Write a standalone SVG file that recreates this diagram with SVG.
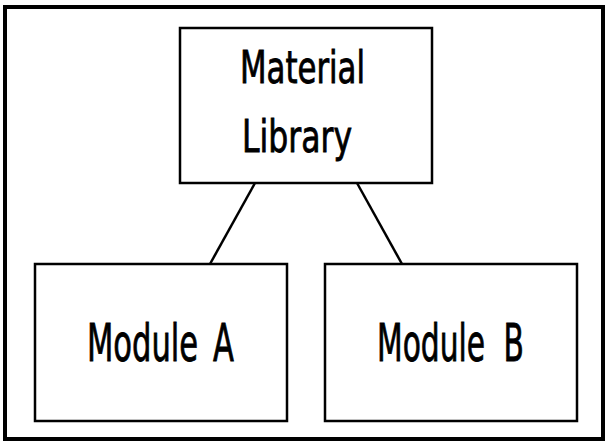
<svg xmlns="http://www.w3.org/2000/svg" width="605" height="441" viewBox="0 0 605 441">
  <style>
    .frame { fill: #ffffff; stroke: #000000; stroke-width: 4; }
    .box { fill: #ffffff; stroke: #000000; stroke-width: 2.5; }
    .link { stroke: #000000; stroke-width: 2.5; fill: none; }
    .label { font-family: "DejaVu Sans Condensed", "DejaVu Sans", sans-serif; font-stretch: condensed; fill: #000000; stroke: #000000; stroke-width: 0.8; }
  </style>
  <rect width="605" height="441" fill="#ffffff"/>
  <rect class="frame" x="5" y="7" width="598" height="432"/>
  <g id="connectors">
    <line class="link" x1="255" y1="183" x2="210" y2="264"/>
    <line class="link" x1="357" y1="183" x2="402" y2="264"/>
  </g>
  <g id="material-library">
    <rect class="box" x="180" y="28" width="252" height="155"/>
    <text class="label" x="240" y="83" font-size="44" textLength="125" lengthAdjust="spacingAndGlyphs">Material</text>
    <text class="label" x="242" y="152" font-size="44" textLength="110" lengthAdjust="spacingAndGlyphs">Library</text>
  </g>
  <g id="module-a">
    <rect class="box" x="35" y="264" width="252" height="157"/>
    <text class="label" x="87" y="361" font-size="51" word-spacing="8" textLength="147" lengthAdjust="spacingAndGlyphs">Module A</text>
  </g>
  <g id="module-b">
    <rect class="box" x="325" y="264" width="252" height="157"/>
    <text class="label" x="377" y="361" font-size="51" word-spacing="14" textLength="147" lengthAdjust="spacingAndGlyphs">Module B</text>
  </g>
</svg>
